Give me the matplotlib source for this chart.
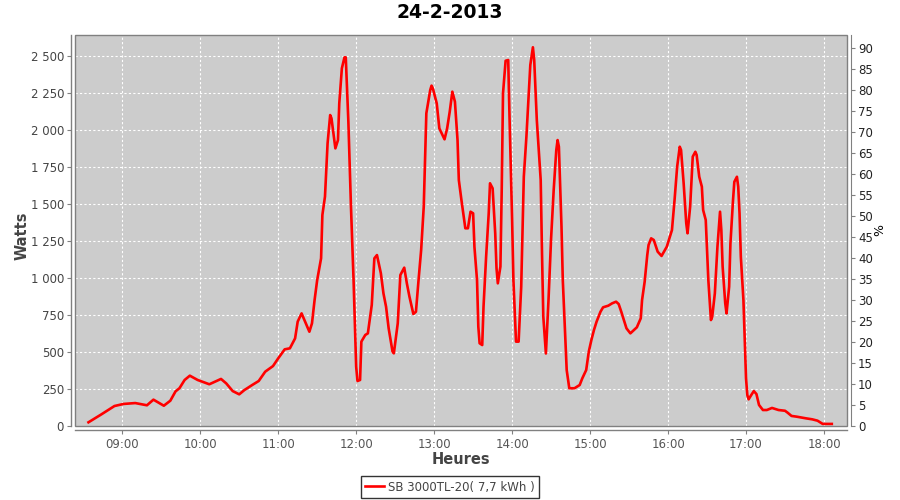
import matplotlib
matplotlib.use("Agg")
import matplotlib.pyplot as plt
from matplotlib.patches import Rectangle
from matplotlib.ticker import FuncFormatter, FixedLocator

title = "24-2-2013"
series_label = "SB 3000TL-20( 7,7 kWh )"
x_label = "Heures"
y_label = "Watts"
y2_label = "%"

times = ["08:34","08:44","08:54","09:01","09:10","09:19","09:24","09:32","09:37","09:41",
         "09:44","09:48","09:52","09:58","10:07","10:16","10:20","10:25","10:30","10:34",
         "10:40","10:45","10:50","10:56","11:00","11:05","11:09","11:13","11:15","11:18",
         "11:24","11:26","11:28","11:30","11:33","11:34","11:36","11:38","11:40","11:41",
         "11:44","11:46","11:47","11:49","11:51","11:52","11:54","11:56","11:58","12:00",
         "12:01","12:03","12:04","12:07","12:09","12:12","12:14","12:16","12:19","12:21",
         "12:23","12:25","12:28","12:29","12:32","12:34","12:37","12:39","12:41","12:44",
         "12:46","12:48","12:50","12:52","12:54","12:57","12:58","12:59","13:02","13:04",
         "13:08","13:10","13:12","13:14","13:16","13:18","13:19","13:21","13:24","13:26",
         "13:28","13:30","13:31","13:33","13:34","13:35","13:37","13:38","13:40","13:42",
         "13:43","13:45","13:47","13:48","13:49","13:51","13:52","13:53","13:55","13:57",
         "13:58","14:00","14:01","14:03","14:05","14:07","14:09","14:11","14:14","14:16",
         "14:17","14:19","14:22","14:23","14:24","14:26","14:28","14:30","14:32","14:34",
         "14:35","14:36","14:38","14:39","14:41","14:42","14:44","14:48","14:52","14:54",
         "14:57","14:59","15:01","15:03","15:05","15:08","15:10","15:14","15:17","15:20",
         "15:22","15:24","15:26","15:28","15:31","15:33","15:36","15:39","15:40","15:42",
         "15:44","15:45","15:47","15:49","15:52","15:55","15:59","16:03","16:05","16:07",
         "16:09","16:10","16:12","16:14","16:15","16:17","16:19","16:21","16:22","16:24",
         "16:26","16:27","16:29","16:30","16:31","16:33","16:34","16:36","16:38","16:40",
         "16:41","16:42","16:44","16:45","16:47","16:48","16:50","16:51","16:53","16:54",
         "16:55","16:56","16:58","16:59","17:00","17:01","17:02","17:04","17:06","17:08",
         "17:10","17:13","17:16","17:20","17:25","17:30","17:32","17:35","17:39","17:46",
         "17:51","17:55","17:59","18:06"]

watts = [25, 79, 135, 149, 155, 140, 178, 137, 171, 234,
         255, 311, 340, 311, 282, 318, 288, 236, 214, 243,
         277, 304, 367, 405, 457, 518, 525, 592, 705, 761,
         637, 694, 851, 986, 1133, 1426, 1550, 1910, 2101, 2079,
         1876, 1932, 2180, 2417, 2491, 2491, 2056, 1482, 986, 401,
         304, 311, 570, 615, 626, 818, 1133, 1155, 1032, 896,
         806, 660, 502, 491, 694, 1020, 1070, 964, 874, 757,
         772, 986, 1189, 1482, 2113, 2270, 2300, 2281, 2180, 2011,
         1937, 2011, 2124, 2259, 2191, 1932, 1662, 1527, 1336, 1336,
         1448, 1437, 1211, 986, 671, 559, 547, 806, 1144, 1437,
         1640, 1606, 1302, 1066, 964, 1077, 1595, 2248, 2468, 2473,
         2090, 1392, 986, 570, 570, 941, 1684, 1955, 2439, 2559,
         2473, 2068, 1662, 1167, 739, 490, 851, 1268, 1595, 1865,
         1932, 1887, 1347, 986, 581, 378, 255, 255, 277, 322,
         378, 502, 581, 649, 705, 772, 802, 813, 829, 840,
         824, 772, 716, 660, 626, 642, 667, 728, 851, 975,
         1155, 1223, 1268, 1257, 1178, 1149, 1211, 1324, 1527, 1752,
         1887, 1865, 1640, 1370, 1302, 1482, 1820, 1853, 1831, 1684,
         1617, 1459, 1392, 1189, 986, 716, 739, 896, 1211, 1448,
         1324, 1077, 829, 761, 941, 1234, 1527, 1650, 1684, 1617,
         1437, 1144, 851, 581, 322, 209, 180, 209, 236, 216,
         142, 108, 108, 122, 108, 103, 90, 68, 63, 52,
         45, 36, 14, 14]

hour_ticks = list(range(9, 19))
watt_ticks = list(range(0, 2501, 250))
pct_ticks = list(range(0, 91, 5))

def to_hours(s):
    h, m = s.split(":")
    return int(h) + int(m) / 60.0

x = [to_hours(t) for t in times]

W, H, DPI = 900, 500, 100
fig = plt.figure(figsize=(W / DPI, H / DPI), dpi=DPI, facecolor="white")
L, R, T, B = 75, 847, 35, 426
ax = fig.add_axes([L / W, 1 - B / H, (R - L) / W, (B - T) / H])
ax.set_facecolor("#CCCCCC")

dark = "#444444"
axis_gray = "#808080"
off = 4 * 72 / DPI

ax.plot(x, watts, color="#FF0000", lw=1.9, solid_joinstyle="round", label=series_label, zorder=3)

ax.set_xlim(8.394, 18.295)
ax.set_ylim(0, 2642)
ax.xaxis.set_major_locator(FixedLocator(hour_ticks))
ax.xaxis.set_major_formatter(FuncFormatter(lambda v, p: f"{int(round(v)):02d}:00"))
ax.yaxis.set_major_locator(FixedLocator(watt_ticks))
ax.yaxis.set_major_formatter(FuncFormatter(lambda v, p: f"{int(v):,}".replace(",", " ")))

ax.grid(True, color="white", linestyle=(0, (2, 2)), linewidth=0.8)
ax.set_axisbelow(True)

for s in ["top", "right"]:
    ax.spines[s].set_visible(False)
for s in ["left", "bottom"]:
    ax.spines[s].set_position(("outward", off))
    ax.spines[s].set_color(axis_gray)
    ax.spines[s].set_linewidth(1.0)

ax.tick_params(axis="y", colors=axis_gray, labelcolor=dark, labelsize=8.5,
               length=3, width=0.8, pad=2)
ax.tick_params(axis="x", colors=axis_gray, labelcolor="#555555", labelsize=8.5,
               length=3, width=0.8, pad=3)

ax.add_patch(Rectangle((0, 0), 1, 1, transform=ax.transAxes, fill=False,
                       edgecolor=axis_gray, linewidth=1.0, clip_on=False, zorder=5))

ax2 = ax.twinx()
ax2.set_ylim(0, 93.1)
ax2.yaxis.set_major_locator(FixedLocator(pct_ticks))
for s in ["top", "left", "bottom"]:
    ax2.spines[s].set_visible(False)
ax2.spines["right"].set_position(("outward", off))
ax2.spines["right"].set_color(axis_gray)
ax2.tick_params(axis="y", colors=axis_gray, labelcolor="#222222", labelsize=8.5,
                length=3, width=0.8, pad=2)

fig.text(0.5, 1 - 13 / H, title, ha="center", va="center", fontsize=13.5,
         fontweight="bold", color="black")
fig.text(22 / W, 1 - 236 / H, y_label, ha="center", va="center", rotation=90,
         fontsize=10.5, fontweight="bold", color=dark)
fig.text(461 / W, 1 - 460 / H, x_label, ha="center", va="center",
         fontsize=10.5, fontweight="bold", color=dark)
fig.text(880 / W, 1 - 230 / H, y2_label, ha="center", va="center", rotation=90,
         fontsize=9, color="black")

leg = fig.legend(loc="center", bbox_to_anchor=(0.5, 1 - 487 / H), frameon=True,
                 fancybox=False, fontsize=8.5, handlelength=1.6, handletextpad=0.4,
                 borderpad=0.35, borderaxespad=0)
leg.get_frame().set_edgecolor("black")
leg.get_frame().set_linewidth(1.0)
for t in leg.get_texts():
    t.set_color(dark)

fig.savefig("out.png", dpi=DPI, facecolor="white")
